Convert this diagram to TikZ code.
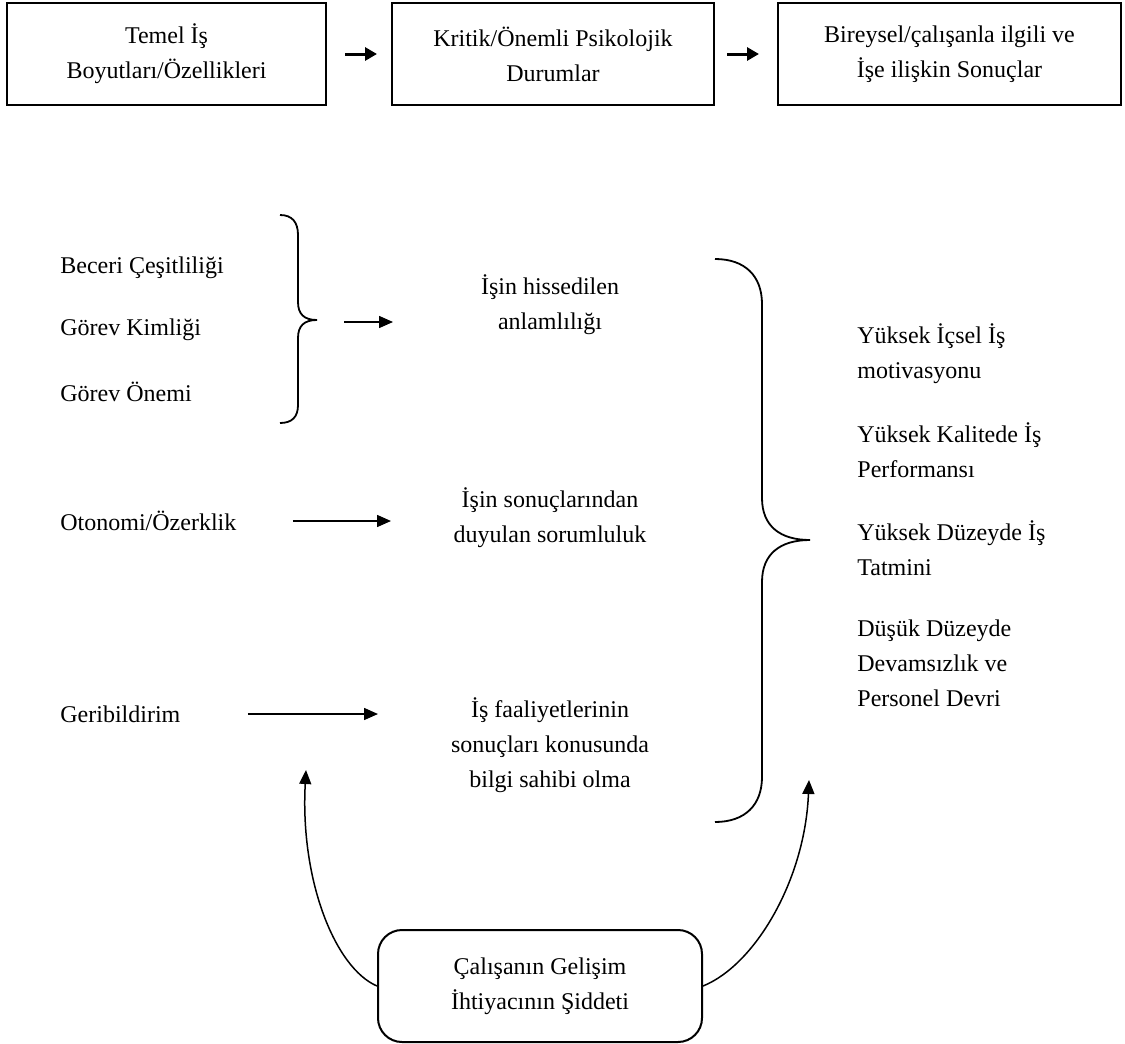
\documentclass[tikz,border=0pt]{standalone}
\usepackage{fontspec}
\setmainfont{Liberation Serif}
\usetikzlibrary{arrows.meta}
\begin{document}
\begin{tikzpicture}[x=0.5pt,y=-0.5pt,
  every node/.style={font=\fontsize{12}{17.5}\selectfont, inner sep=0pt},
  topbox/.style={draw, line width=1pt, minimum height=51pt, align=center},
  lbl/.style={anchor=west, align=left},
  ctr/.style={align=center},
  conn/.style={line width=0.75pt, -{Triangle[length=7pt,width=6pt]}},
  toparr/.style={line width=1.5pt, -{Triangle[length=6pt,width=6.5pt]}},
  brace/.style={line width=0.9pt},
  roundbox/.style={draw, line width=1pt, rounded corners=12pt, minimum width=162pt, minimum height=56pt, align=center},
]
\useasboundingbox (0,0) rectangle (1125,1044);

% top row
\node[topbox, minimum width=159.5pt] (b1) at (166.5,54) {Temel İş\\Boyutları/Özellikleri};
\node[topbox, minimum width=161pt] (b2) at (553,54) {Kritik/Önemli Psikolojik\\Durumlar};
\node[topbox, minimum width=171.5pt] (b3) at (949.5,54) {Bireysel/çalışanla ilgili ve\\İşe ilişkin Sonuçlar};
\draw[toparr, shorten <=9pt, shorten >=7pt] (b1) -- (b2);
\draw[toparr, shorten <=6pt, shorten >=9pt] (b2) -- (b3);

% left labels
\node[lbl] (bc) at (60,268) {Beceri Çeşitliliği};
\node[lbl] (gk) at (60,330) {Görev Kimliği};
\node[lbl] (go) at (60,392) {Görev Önemi};
\node[lbl] (oto) at (60,521) {Otonomi/Özerklik};
\node[lbl] (geri) at (60,714) {Geribildirim};

% middle
\node[ctr] (anl) at (550,305) {İşin hissedilen\\anlamlılığı};
\node[ctr] (sor) at (550,518) {İşin sonuçlarından\\duyulan sorumluluk};
\node[ctr] (bil) at (550,745) {İş faaliyetlerinin\\sonuçları konusunda\\bilgi sahibi olma};

% right
\node[lbl] (ym) at (857,354) {Yüksek İçsel İş\\motivasyonu};
\node[lbl] (yk) at (857,450) {Yüksek Kalitede İş\\Performansı};
\node[lbl] (yd) at (857,548) {Yüksek Düzeyde İş\\Tatmini};
\node[lbl] (dd) at (857,663) {Düşük Düzeyde\\Devamsızlık ve\\Personel Devri};

% small brace
\draw[brace] (280,215) .. controls (292,215) and (298,222) .. (298,235) -- (298,302)
  .. controls (298,314) and (304,320) .. (317,320)
  .. controls (304,320) and (298,326) .. (298,338) -- (298,405)
  .. controls (298,417) and (292,423) .. (280,423);
\coordinate (bt) at (344,322);
\coordinate (btend) at (393,322);
\draw[conn] (bt) -- (btend);

% big brace
\draw[brace] (715,259) .. controls (745,259) and (762,276) .. (762,304) -- (762,498)
  .. controls (762,526) and (780,540) .. (810,540)
  .. controls (780,540) and (762,554) .. (762,582) -- (762,777)
  .. controls (762,805) and (745,822) .. (715,822);

% arrows
\coordinate (otoend) at (391,521);
\coordinate (geriend) at (378,714);
\draw[conn, shorten <=28pt] (oto.east) -- (oto.east -| otoend);
\draw[conn, shorten <=33.5pt] (geri.east) -- (geri.east -| geriend);

% bottom box
\node[roundbox] (dev) at (540,986) {Çalışanın Gelişim\\İhtiyacının Şiddeti};
\coordinate (la) at (306,770);
\coordinate (ra) at (809,780);
\draw[conn] (dev.west) .. controls (335,968) and (300,880) .. (la);
\draw[conn] (dev.east) .. controls (755,965) and (805,880) .. (ra);
\end{tikzpicture}
\end{document}
